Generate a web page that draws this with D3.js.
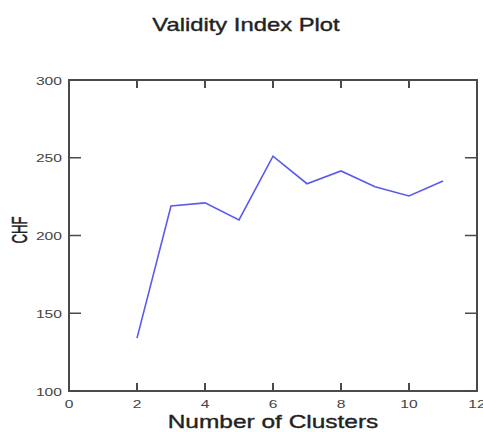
<!DOCTYPE html>
<html><head><meta charset="utf-8">
<script src="https://cdn.jsdelivr.net/npm/d3@7"></script>
<style>body{margin:0;background:#fff}svg{display:block}text{font-family:"Liberation Sans",Arial,sans-serif}</style>
</head><body><svg id="c" width="483" height="432"></svg>
<script>
const clusters = [2,3,4,5,6,7,8,9,10,11];
const chf = [134,219,221,210,251,233.3,241.5,231.4,225.4,235];
const xTicks = [0,2,4,6,8,10,12];
const yTicks = [100,150,200,250,300];

const svg = d3.select("#c");
const m = {l:69, r:477, t:80, b:391};
const x = d3.scaleLinear().domain([0,12]).range([m.l,m.r]);
const y = d3.scaleLinear().domain([100,300]).range([m.b,m.t]);
const axisCol = "#4a4a4a";
const SX = 1.36; // horizontal stretch of the original rendering

svg.append("rect").attr("x",m.l).attr("y",m.t).attr("width",m.r-m.l).attr("height",m.b-m.t)
  .attr("fill","none").attr("stroke",axisCol).attr("stroke-width",2);

const g = svg.append("g");
g.selectAll(".xb").data(xTicks).enter().append("line")
  .attr("x1",d=>x(d)).attr("x2",d=>x(d)).attr("y1",m.b).attr("y2",m.b-8).attr("stroke",axisCol).attr("stroke-width",2);
g.selectAll(".xt").data(xTicks).enter().append("line")
  .attr("x1",d=>x(d)).attr("x2",d=>x(d)).attr("y1",m.t).attr("y2",m.t+8).attr("stroke",axisCol).attr("stroke-width",2);
g.selectAll(".yl").data(yTicks).enter().append("line")
  .attr("y1",d=>y(d)).attr("y2",d=>y(d)).attr("x1",m.l).attr("x2",m.l+12).attr("stroke",axisCol).attr("stroke-width",1.5);
g.selectAll(".yr").data(yTicks).enter().append("line")
  .attr("y1",d=>y(d)).attr("y2",d=>y(d)).attr("x1",m.r).attr("x2",m.r-12).attr("stroke",axisCol).attr("stroke-width",1.5);

g.selectAll(".xl").data(xTicks).enter().append("text")
  .attr("transform",d=>`translate(${x(d)},${m.b+17}) scale(${SX},1)`).attr("text-anchor","middle")
  .attr("font-size",11.5).attr("fill","#444").text(d=>d);
g.selectAll(".ylb").data(yTicks).enter().append("text")
  .attr("transform",d=>`translate(${m.l-7},${y(d)+4.5}) scale(${SX},1)`).attr("text-anchor","end")
  .attr("font-size",11.5).attr("fill","#444").text(d=>d);

svg.append("path").datum(clusters.map((c,i)=>[c,chf[i]]))
  .attr("d",d3.line().x(d=>x(d[0])).y(d=>y(d[1])))
  .attr("fill","none").attr("stroke","#5a5af0").attr("stroke-width",1.6);

svg.append("text").attr("transform",`translate(246,31) scale(${SX},1)`).attr("text-anchor","middle")
  .attr("font-size",17.5).attr("fill","#222").attr("stroke","#222").attr("stroke-width",0.35)
  .text("Validity Index Plot");
svg.append("text").attr("transform",`translate(273,428) scale(${SX},1)`).attr("text-anchor","middle")
  .attr("font-size",18).attr("fill","#222").attr("stroke","#222").attr("stroke-width",0.35)
  .text("Number of Clusters");
svg.append("text").attr("transform",`translate(27,230) scale(1.45,0.88) rotate(-90)`).attr("text-anchor","middle")
  .attr("font-size",15).attr("fill","#222").attr("stroke","#222").attr("stroke-width",0.35)
  .text("CHF");
</script></body></html>
